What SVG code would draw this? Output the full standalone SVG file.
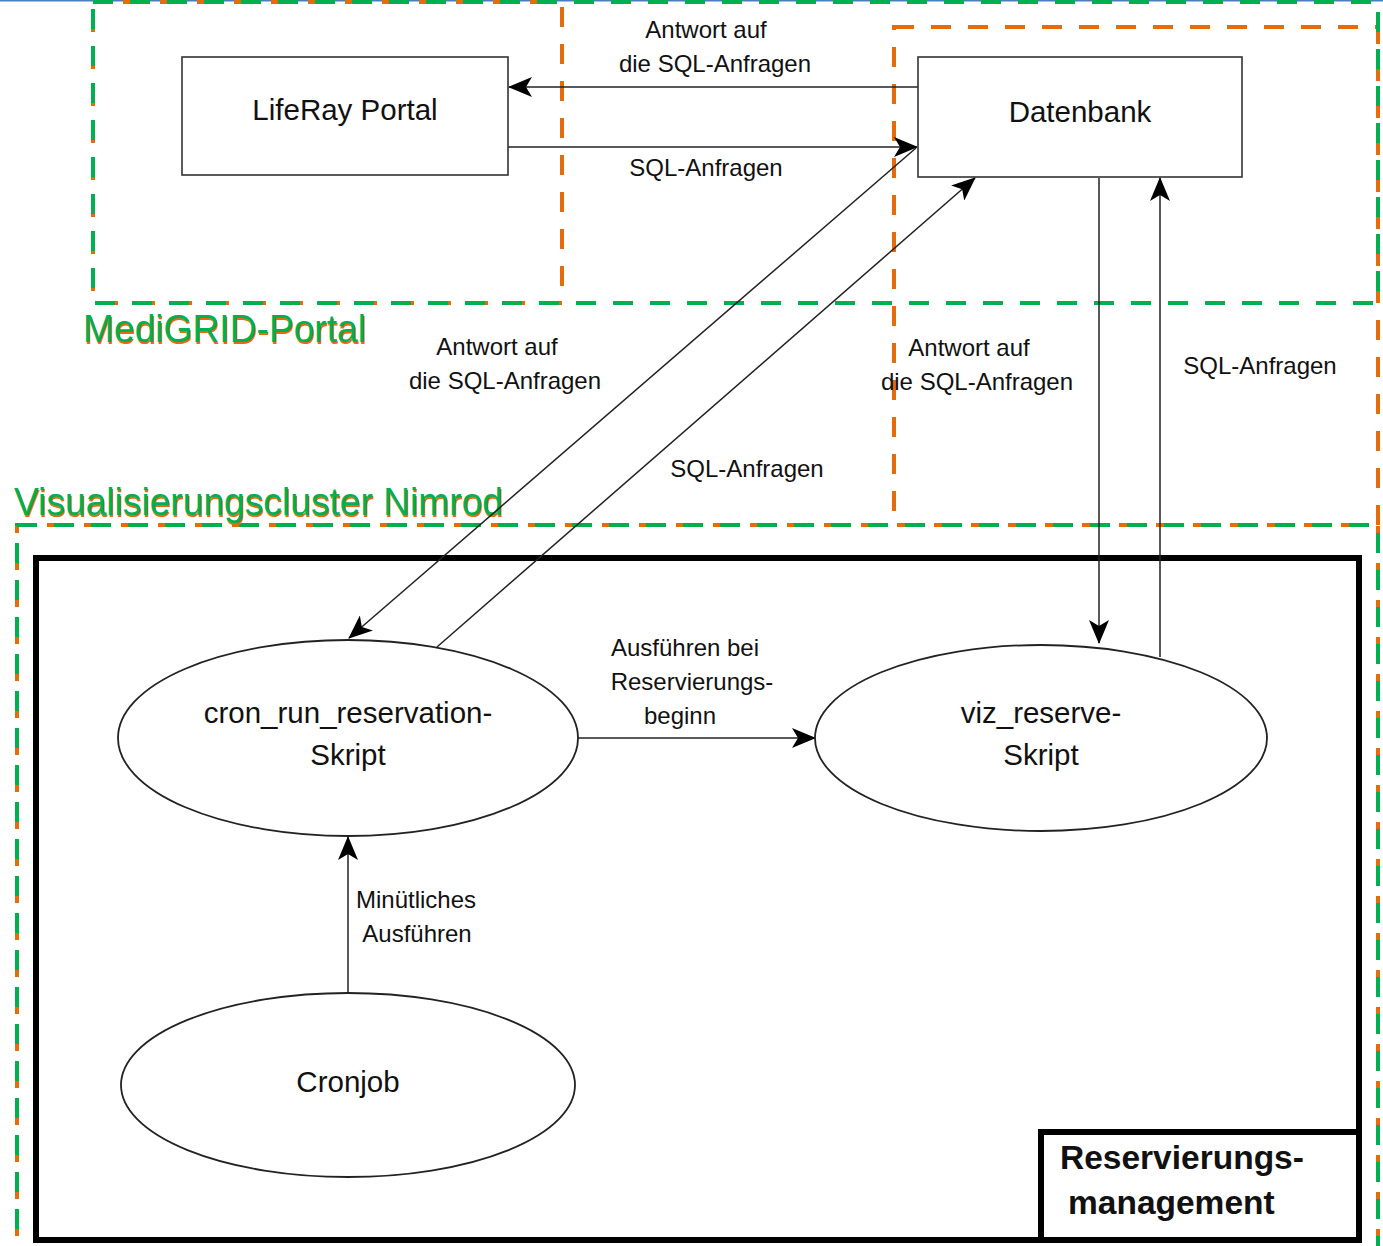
<svg xmlns="http://www.w3.org/2000/svg" width="1383" height="1246" viewBox="0 0 1383 1246">
<style>
text{font-family:"Liberation Sans",Arial,sans-serif;fill:#111}
.node{font-size:29.5px}
.lbl{font-size:24px}
.g{fill:none;stroke:#00b050;stroke-width:4;stroke-dasharray:20 17}
.o{fill:none;stroke:#e46c0a;stroke-width:4;stroke-dasharray:20 17}
.box{fill:#fff;stroke:#333;stroke-width:1.6}
.ell{fill:#fff;stroke:#222;stroke-width:1.8}
.c{fill:none;stroke:#222;stroke-width:1.5}
.grp{font-size:38px}
</style>
<defs>
<marker id="ah" viewBox="0 0 24 20" refX="23" refY="10" markerWidth="24" markerHeight="20" markerUnits="userSpaceOnUse" orient="auto">
<path d="M0,0 L24,10 L0,20 L6,10 z" fill="#000"/>
</marker>
</defs>
<rect width="1383" height="1246" fill="#fff"/>
<line x1="0" y1="0.5" x2="1383" y2="0.5" stroke="#4a7ebb" stroke-width="2"/>

<g id="groups">
<rect class="o" x="93" y="2" width="469" height="301" stroke-dashoffset="7"/>
<rect class="o" x="894" y="27" width="484" height="498"/>
<rect class="o" x="17" y="525" width="1361" height="730" stroke-dashoffset="7"/>
<rect class="g" x="93" y="2" width="1285" height="301"/>
<rect class="g" x="17" y="525" width="1361" height="730"/>
<rect x="36" y="558" width="1323" height="682" fill="none" stroke="#000" stroke-width="6"/>
</g>

<g id="group-labels">
<text class="grp" x="84" y="344" style="fill:#e46c0a" textLength="283" lengthAdjust="spacingAndGlyphs">MediGRID-Portal</text>
<text class="grp" x="83" y="342" style="fill:#00b050" textLength="283" lengthAdjust="spacingAndGlyphs">MediGRID-Portal</text>
<text class="grp" x="15" y="517" style="fill:#e46c0a" textLength="489" lengthAdjust="spacingAndGlyphs">Visualisierungscluster Nimrod</text>
<text class="grp" x="14" y="515" style="fill:#00b050" textLength="489" lengthAdjust="spacingAndGlyphs">Visualisierungscluster Nimrod</text>
</g>

<g id="connectors">
<line class="c" x1="918" y1="87" x2="509" y2="87" marker-end="url(#ah)"/>
<line class="c" x1="508" y1="147" x2="917" y2="147" marker-end="url(#ah)"/>
<line class="c" x1="916" y1="148" x2="349" y2="638" marker-end="url(#ah)"/>
<line class="c" x1="437" y1="647" x2="975" y2="178" marker-end="url(#ah)"/>
<line class="c" x1="1099" y1="178" x2="1099" y2="643" marker-end="url(#ah)"/>
<line class="c" x1="1160" y1="657" x2="1160" y2="178" marker-end="url(#ah)"/>
<line class="c" x1="578" y1="738" x2="815" y2="738" marker-end="url(#ah)"/>
<line class="c" x1="348" y1="993" x2="348" y2="837" marker-end="url(#ah)"/>
<text class="lbl" x="706" y="38" text-anchor="middle">Antwort auf</text>
<text class="lbl" x="715" y="72" text-anchor="middle">die SQL-Anfragen</text>
<text class="lbl" x="706" y="176" text-anchor="middle">SQL-Anfragen</text>
<text class="lbl" x="497" y="355" text-anchor="middle">Antwort auf</text>
<text class="lbl" x="505" y="389" text-anchor="middle">die SQL-Anfragen</text>
<text class="lbl" x="747" y="477" text-anchor="middle">SQL-Anfragen</text>
<text class="lbl" x="969" y="356" text-anchor="middle">Antwort auf</text>
<text class="lbl" x="977" y="390" text-anchor="middle">die SQL-Anfragen</text>
<text class="lbl" x="1260" y="374" text-anchor="middle">SQL-Anfragen</text>
<text class="lbl" x="685" y="656" text-anchor="middle">Ausführen bei</text>
<text class="lbl" x="692" y="690" text-anchor="middle">Reservierungs-</text>
<text class="lbl" x="680" y="724" text-anchor="middle">beginn</text>
<text class="lbl" x="416" y="908" text-anchor="middle">Minütliches</text>
<text class="lbl" x="417" y="942" text-anchor="middle">Ausführen</text>
</g>

<g id="liferay">
<rect class="box" x="182" y="57" width="326" height="118"/>
<text class="node" x="345" y="120" text-anchor="middle">LifeRay Portal</text>
</g>
<g id="datenbank">
<rect class="box" x="918" y="57" width="324" height="120"/>
<text class="node" x="1080" y="122" text-anchor="middle">Datenbank</text>
</g>
<g id="cron-run">
<ellipse class="ell" cx="348" cy="738" rx="230" ry="98"/>
<text class="node" x="348" y="723" text-anchor="middle">cron_run_reservation-</text>
<text class="node" x="348" y="765" text-anchor="middle">Skript</text>
</g>
<g id="viz-reserve">
<ellipse class="ell" cx="1041" cy="738" rx="226" ry="93"/>
<text class="node" x="1041" y="723" text-anchor="middle">viz_reserve-</text>
<text class="node" x="1041" y="765" text-anchor="middle">Skript</text>
</g>
<g id="cronjob">
<ellipse class="ell" cx="348" cy="1085" rx="227" ry="92"/>
<text class="node" x="348" y="1092" text-anchor="middle">Cronjob</text>
</g>
<g id="reservierungsmanagement">
<rect x="1041" y="1132" width="318" height="108" fill="#fff" stroke="#000" stroke-width="6"/>
<text x="1060" y="1169" style="font-size:33.5px;font-weight:bold">Reservierungs-</text>
<text x="1068" y="1214" style="font-size:33.5px;font-weight:bold">management</text>
</g>
</svg>
